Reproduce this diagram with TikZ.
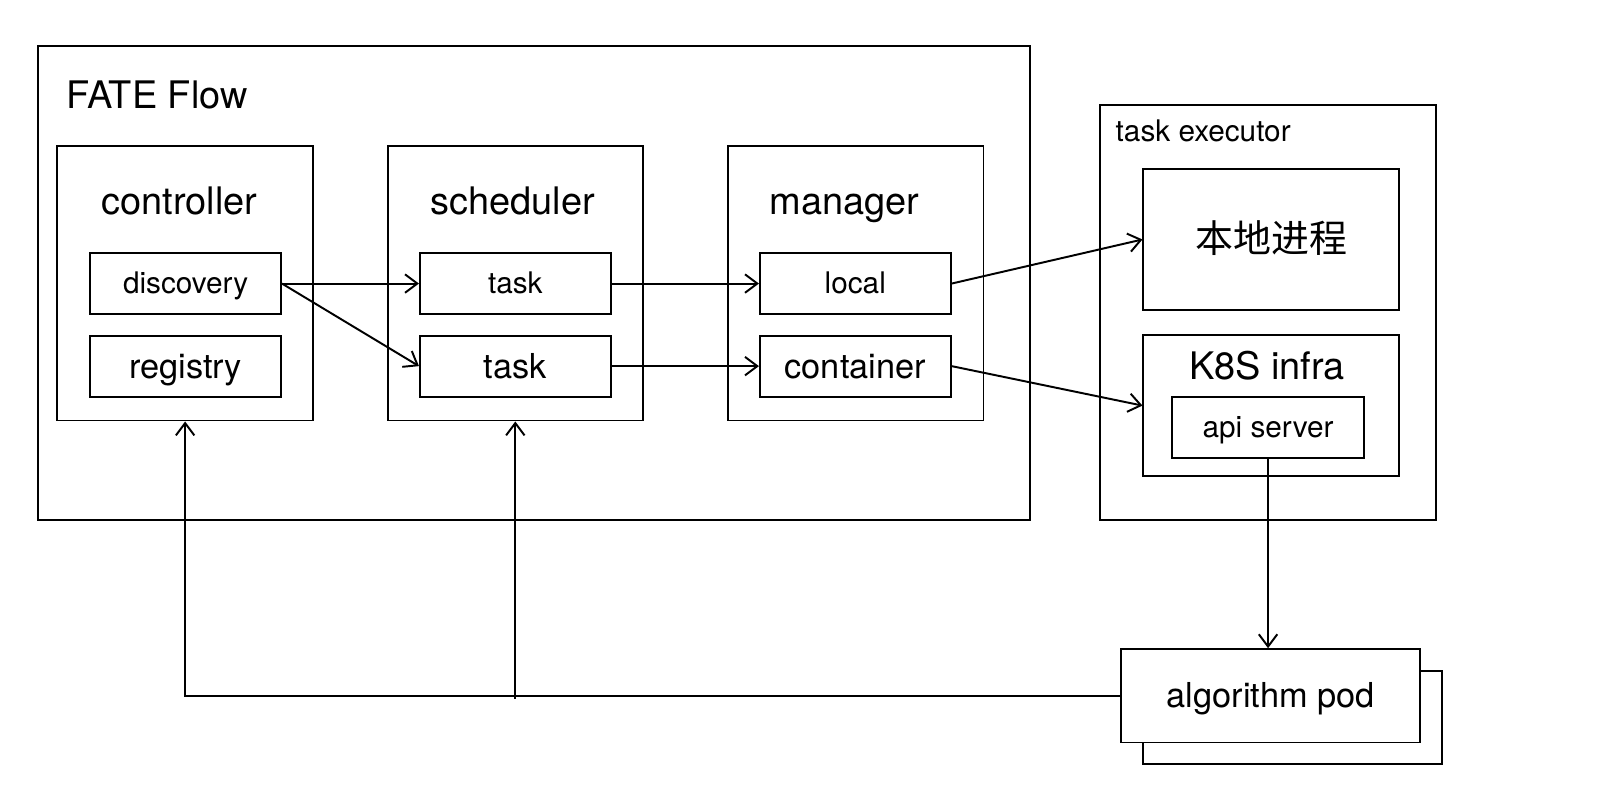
\documentclass[tikz,border=0pt]{standalone}
\usepackage{fontspec}
\setmainfont{TeX Gyre Heros}
\newfontfamily\cjk{Noto Sans CJK SC}
\usetikzlibrary{arrows.meta, positioning}

\begin{document}
\begin{tikzpicture}[x=0.5pt, y=-0.5pt, line width=0.95pt,
    head/.style={inner sep=0pt, text height=13.2pt, text depth=0.2pt, font=\fontsize{18.5pt}{22pt}\selectfont},
    small/.style={inner sep=0pt, text height=10.2pt, text depth=0.2pt, font=\fontsize{14.5pt}{17pt}\selectfont},
    mid/.style={inner sep=0pt, text height=11.9pt, text depth=0.2pt, font=\fontsize{16.75pt}{20pt}\selectfont},
    panel/.style={draw, inner sep=0pt, minimum width=124.5pt, minimum height=134pt},
    item/.style={draw, small, minimum width=93pt, minimum height=29.75pt},
    slot/.style={draw, fill=white, inner sep=0pt, minimum width=124.5pt, minimum height=68.5pt},
    arr/.style={-{Straight Barb[length=6pt,width=9pt]}}]
    \useasboundingbox (0,0) rectangle (1568,784);

    % FATE Flow
    \node[draw, inner sep=0pt, minimum width=483.5pt, minimum height=231pt] (fate) at (520.5,276) {};
    \node[head, anchor=west] (fatetitle) at (64,93) {FATE Flow};

    \node[panel] (ctrl) at (180.5,276) {};
    \node[head] (ctrltitle) at (175,196) {controller};
    \node[item] (disc) at (181,276.5) {discovery};
    \node[item, mid] (reg) at (181,357) {registry};

    \node[panel] (sched) at (502.5,276) {};
    \node[head] (schedtitle) at (500,196) {scheduler};
    \node[item] (taska) at (502.5,276.5) {task};
    \node[item, mid] (taskb) at (502.5,357) {task};

    \node[panel] (mgr) at (834.5,276) {};
    \node[head] (mgrtitle) at (823.5,196) {manager};
    \node[item] (local) at (834,276.5) {local};
    \node[item, mid] (cont) at (834,357) {container};

    % task executor
    \node[draw, inner sep=0pt, minimum width=163.5pt, minimum height=202.5pt] (exec) at (1236.5,304.5) {};
    \node[small, anchor=west] (exectitle) at (1087,128) {task executor};
    \node[slot, head] (proc) at (1239.5,233.5) {\cjk 本地进程};
    \node[slot] (k8s) at (1239.5,395.5) {};
    \node[head] (k8stitle) at (1235.5,357) {K8S infra};
    \node[item, minimum width=93.5pt, minimum height=30pt] (api) at (1236.5,417) {api server};

    % algorithm pod
    \node[draw, fill=white, minimum width=145.5pt, minimum height=45.5pt] (podback) at (1260.5,699.5) {};
    \node[draw, fill=white, mid, minimum width=146pt, minimum height=45.5pt] (pod) at (1239,678.5) {algorithm pod};

    % calls
    \draw[arr] (disc.east) -- (taska.west);
    \draw[arr] (disc.east) -- (taskb.west);
    \draw[arr] (taska.east) -- (local.west);
    \draw[arr] (taskb.east) -- (cont.west);
    \draw[arr] (local.east) -- (proc.west);
    \draw[arr] (cont.east) -- (k8s.west);
    \draw[arr] (api.south) -- (api.south |- pod.north);

    % feedback
    \coordinate (fork) at ([yshift=-1.5pt]sched.south |- pod.west);
    \draw[arr] (pod.west) -| (ctrl.south);
    \draw[arr] (fork) -- (sched.south);
\end{tikzpicture}
\end{document}
